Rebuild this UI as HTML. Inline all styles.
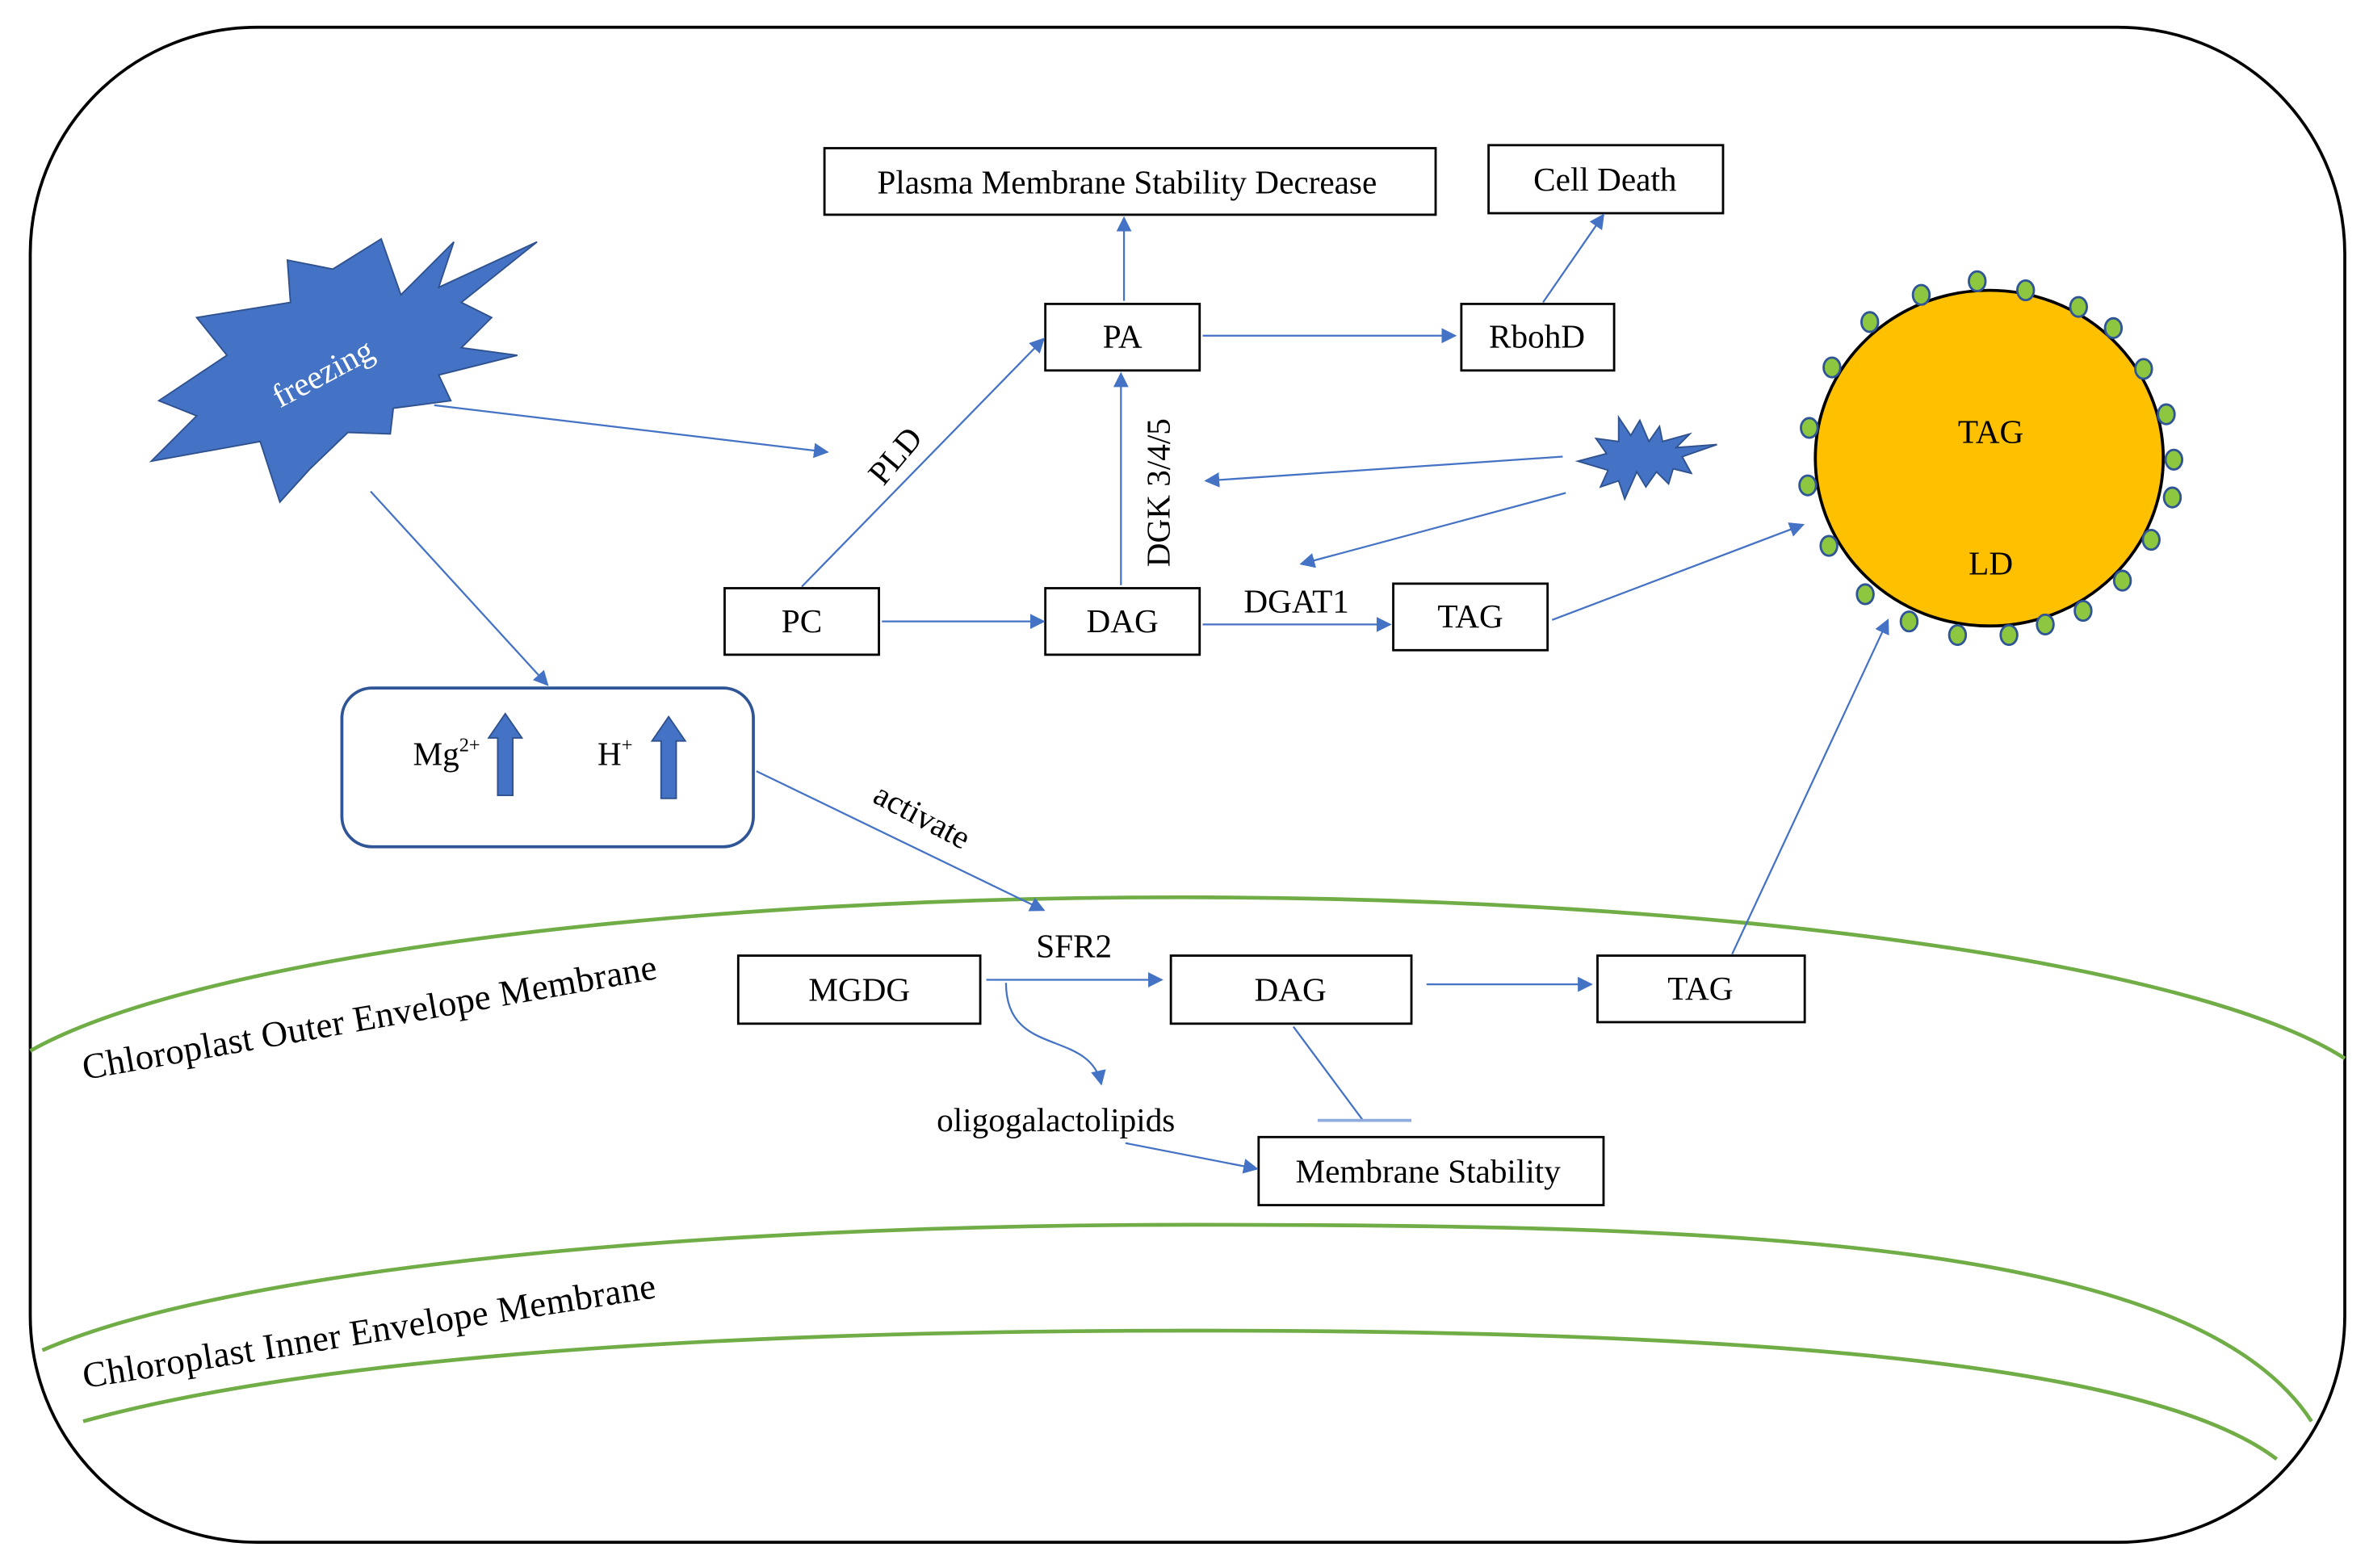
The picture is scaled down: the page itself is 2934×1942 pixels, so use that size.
<!DOCTYPE html>
<html><head><meta charset="utf-8"><style>
html,body{margin:0;padding:0;background:#fff;}
svg{display:block;}
text{font-family:"Liberation Serif",serif;fill:#000;}
</style></head><body>
<svg width="2934" height="1942" viewBox="0 0 1566 1037" preserveAspectRatio="none" xmlns="http://www.w3.org/2000/svg">
<defs>
<marker id="a" viewBox="0 0 10 10" refX="9" refY="5" markerWidth="10" markerHeight="10" markerUnits="userSpaceOnUse" orient="auto"><path d="M0,0 L10,5 L0,10 z" fill="#4472c4"/></marker>
</defs>
<rect x="20" y="18" width="1530" height="1002" rx="150" ry="150" fill="none" stroke="#000" stroke-width="2"/>
<!-- membranes -->
<path d="M20,695 A800,147 0 0,1 1550,700" fill="none" stroke="#70ad47" stroke-width="2.5"/>
<path d="M28,893 C150,840 450,810 790,810 C1150,810 1450,820 1528,940" fill="none" stroke="#70ad47" stroke-width="2.5"/>
<path d="M55,940 C200,900 450,880 790,880 C1150,880 1420,900 1505,965" fill="none" stroke="#70ad47" stroke-width="2.5"/>
<text transform="translate(56,714) rotate(-10)" font-size="24" textLength="385">Chloroplast Outer Envelope Membrane</text>
<text transform="translate(56,918) rotate(-9)" font-size="24" textLength="383">Chloroplast Inner Envelope Membrane</text>
<!-- freezing star -->
<polygon points="252,158 265,195 300,160 290,190 355,160 305,200 325,210 305,230 342,235 290,248 298,265 260,270 258,287 230,286 205,310 185,332 172,292 100,305 130,275 105,265 150,235 130,210 192,200 190,172 220,178" fill="#4472c4" stroke="#2f528f" stroke-width="1"/>
<text transform="translate(185,270) rotate(-28)" font-size="22" style="fill:#fff">freezing</text>
<!-- small star -->
<polygon points="1084,278 1090,292 1097,282 1099,292 1117,287 1108,296 1135,294 1112,302 1118,313 1106,310 1103,320 1095,312 1088,322 1082,312 1074,330 1070,318 1058,322 1063,311 1043,305 1062,300 1055,290 1070,292 1070,276 1078,288" fill="#4472c4" stroke="#2f528f" stroke-width="1"/>
<!-- boxes -->
<g fill="#fff" stroke="#000" stroke-width="1.5">
<rect x="545" y="98" width="404" height="44"/>
<rect x="984" y="96" width="155" height="45"/>
<rect x="691" y="201" width="102" height="44"/>
<rect x="966" y="201" width="101" height="44"/>
<rect x="479" y="389" width="102" height="44"/>
<rect x="691" y="389" width="102" height="44"/>
<rect x="921" y="386" width="102" height="44"/>
<rect x="488" y="632" width="160" height="45"/>
<rect x="774" y="632" width="159" height="45"/>
<rect x="1056" y="632" width="137" height="44"/>
<rect x="832" y="752" width="228" height="45"/>
</g>
<g font-size="22" text-anchor="middle">
<text x="745" y="128">Plasma Membrane Stability Decrease</text>
<text x="1061" y="126">Cell Death</text>
<text x="742" y="230">PA</text>
<text x="1016" y="230">RbohD</text>
<text x="530" y="418">PC</text>
<text x="742" y="418">DAG</text>
<text x="972" y="415">TAG</text>
<text x="568" y="662">MGDG</text>
<text x="853" y="662">DAG</text>
<text x="1124" y="661">TAG</text>
<text x="944" y="782">Membrane Stability</text>
<text x="710" y="633">SFR2</text>
<text x="698" y="748">oligogalactolipids</text>
<text x="857" y="405">DGAT1</text>
</g>
<text transform="translate(584,322) rotate(-50)" font-size="22">PLD</text>
<text transform="translate(773,375) rotate(-90)" font-size="22">DGK 3/4/5</text>
<text transform="translate(576,530) rotate(28)" font-size="22">activate</text>
<!-- ion box -->
<rect x="226" y="455" width="272" height="105" rx="20" fill="none" stroke="#2f5597" stroke-width="2"/>
<text x="273" y="506" font-size="22">Mg<tspan font-size="13" dy="-9">2+</tspan></text>
<text x="395" y="506" font-size="22">H<tspan font-size="13" dy="-9">+</tspan></text>
<polygon points="329,526 329,488 323,488 334,472 345,488 339,488 339,526" fill="#4472c4" stroke="#2f528f"/>
<polygon points="437,528 437,490 431,490 442,474 453,490 447,490 447,528" fill="#4472c4" stroke="#2f528f"/>
<!-- LD -->
<ellipse cx="1315" cy="303" rx="115" ry="111" fill="#ffc000" stroke="#000" stroke-width="2"/>
<text x="1316" y="293" font-size="22" text-anchor="middle">TAG</text>
<text x="1316" y="380" font-size="22" text-anchor="middle">LD</text>
<g fill="#8dc63f" stroke="#2f5597" stroke-width="1.5">
<ellipse cx="1307" cy="186" rx="5.5" ry="6.5"/><ellipse cx="1339" cy="192" rx="5.5" ry="6.5"/>
<ellipse cx="1374" cy="203" rx="5.5" ry="6.5"/><ellipse cx="1397" cy="217" rx="5.5" ry="6.5"/>
<ellipse cx="1417" cy="244" rx="5.5" ry="6.5"/><ellipse cx="1432" cy="274" rx="5.5" ry="6.5"/>
<ellipse cx="1437" cy="304" rx="5.5" ry="6.5"/><ellipse cx="1436" cy="329" rx="5.5" ry="6.5"/>
<ellipse cx="1422" cy="357" rx="5.5" ry="6.5"/><ellipse cx="1403" cy="384" rx="5.5" ry="6.5"/>
<ellipse cx="1377" cy="404" rx="5.5" ry="6.5"/><ellipse cx="1352" cy="413" rx="5.5" ry="6.5"/>
<ellipse cx="1328" cy="420" rx="5.5" ry="6.5"/><ellipse cx="1294" cy="420" rx="5.5" ry="6.5"/>
<ellipse cx="1262" cy="411" rx="5.5" ry="6.5"/><ellipse cx="1233" cy="393" rx="5.5" ry="6.5"/>
<ellipse cx="1209" cy="361" rx="5.5" ry="6.5"/><ellipse cx="1195" cy="321" rx="5.5" ry="6.5"/>
<ellipse cx="1196" cy="283" rx="5.5" ry="6.5"/><ellipse cx="1211" cy="243" rx="5.5" ry="6.5"/>
<ellipse cx="1236" cy="213" rx="5.5" ry="6.5"/><ellipse cx="1270" cy="195" rx="5.5" ry="6.5"/>
</g>
<!-- arrows -->
<g stroke="#4472c4" stroke-width="1.2" fill="none" marker-end="url(#a)">
<line x1="743" y1="199" x2="743" y2="144"/>
<line x1="1020" y1="200" x2="1060" y2="142"/>
<line x1="795" y1="222" x2="962" y2="222"/>
<line x1="530" y1="388" x2="690" y2="224"/>
<line x1="741" y1="387" x2="741" y2="247"/>
<line x1="583" y1="411" x2="690" y2="411"/>
<line x1="795" y1="413" x2="919" y2="413"/>
<line x1="1026" y1="410" x2="1192" y2="347"/>
<line x1="287" y1="268" x2="547" y2="299"/>
<line x1="245" y1="325" x2="362" y2="453"/>
<line x1="500" y1="510" x2="690" y2="602"/>
<line x1="1033" y1="302" x2="797" y2="318"/>
<line x1="1035" y1="326" x2="860" y2="373"/>
<line x1="652" y1="648" x2="768" y2="648"/>
<line x1="943" y1="651" x2="1052" y2="651"/>
<line x1="1145" y1="631" x2="1248" y2="410"/>
<line x1="744" y1="756" x2="831" y2="773"/>
<path d="M665,650 C665,700 720,680 728,717"/>
</g>
<line x1="855" y1="679" x2="901" y2="741" stroke="#4472c4" stroke-width="1.2"/>
<line x1="871" y1="741" x2="933" y2="741" stroke="#8faadc" stroke-width="2"/>
</svg>
</body></html>
